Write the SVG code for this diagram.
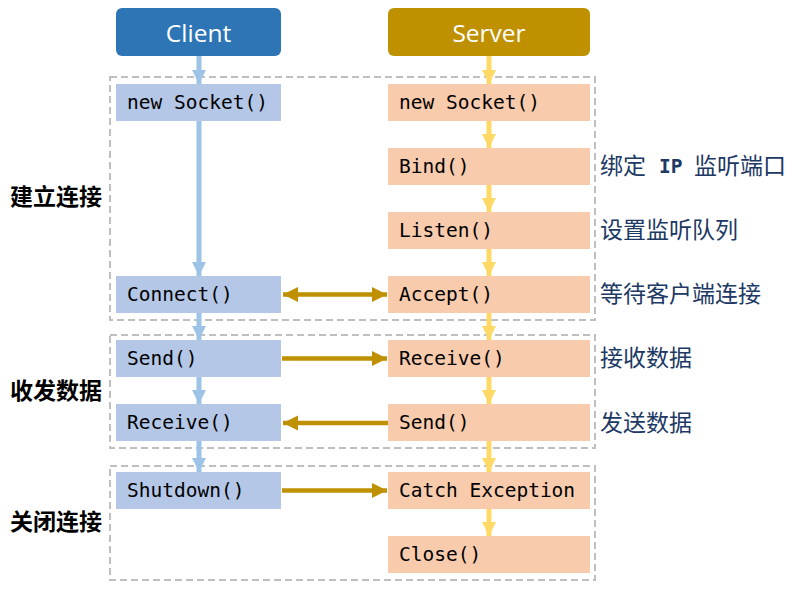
<svg xmlns="http://www.w3.org/2000/svg" width="794" height="592" viewBox="0 0 794 592">
<defs>
<style>
.hdr{font-family:"Open Sans","Noto Sans",sans-serif;font-size:24.5px;fill:#fff;text-anchor:middle}
.code{font-family:"DejaVu Sans Mono","Liberation Mono",monospace;font-size:19.5px;fill:#000}
.cn{fill:#B4C7E7}
.sn{fill:#F8CBAD}
.grp{fill:none;stroke:#BFBFBF;stroke-width:2;stroke-dasharray:7 4}
.lbl{font-family:"Noto Sans CJK SC",sans-serif;font-size:23px;font-weight:bold;fill:#000}
.ann{font-family:"Noto Sans CJK SC",sans-serif;font-size:23px;fill:#203864}
.ip{font-family:"DejaVu Sans Mono","Liberation Mono",monospace;font-size:19.5px;font-weight:bold;fill:#203864}
.ca{stroke:#9DC3E6;stroke-width:5;fill:none}
.sa{stroke:#FFD966;stroke-width:5;fill:none}
.ha{stroke:#BF9000;stroke-width:4.5;fill:none}
</style>
<marker id="mc" viewBox="0 0 10 10" refX="10" refY="5" markerWidth="3" markerHeight="2.8" orient="auto" markerUnits="strokeWidth"><path d="M0,0L10,5L0,10z" fill="#9DC3E6"/></marker>
<marker id="ms" viewBox="0 0 10 10" refX="10" refY="5" markerWidth="3" markerHeight="2.8" orient="auto" markerUnits="strokeWidth"><path d="M0,0L10,5L0,10z" fill="#FFD966"/></marker>
<marker id="mh" viewBox="0 0 10 10" refX="10" refY="5" markerWidth="3.4" markerHeight="3.4" orient="auto-start-reverse" markerUnits="strokeWidth"><path d="M0,0L10,5L0,10z" fill="#BF9000"/></marker>
</defs>
<rect width="794" height="592" fill="#fff"/>
<g id="groups">
<rect class="grp" x="110" y="77" width="485" height="243"/>
<rect class="grp" x="110" y="335" width="485" height="113"/>
<rect class="grp" x="110" y="466" width="485" height="114"/>
</g>
<g id="labels">
<text class="lbl" x="10" y="205">建立连接</text>
<text class="lbl" x="10" y="399">收发数据</text>
<text class="lbl" x="10" y="530">关闭连接</text>
<text class="ann" x="600" y="174">绑定</text>
<text class="ip" x="659" y="173">IP</text>
<text class="ann" x="694" y="174">监听端口</text>
<text class="ann" x="600" y="238">设置监听队列</text>
<text class="ann" x="600" y="302">等待客户端连接</text>
<text class="ann" x="600" y="366">接收数据</text>
<text class="ann" x="600" y="431">发送数据</text>
</g>
<g id="connectors">
<line class="ca" x1="199" y1="56" x2="199" y2="84" marker-end="url(#mc)"/>
<line class="ca" x1="199" y1="121" x2="199" y2="276" marker-end="url(#mc)"/>
<line class="ca" x1="199" y1="313" x2="199" y2="340" marker-end="url(#mc)"/>
<line class="ca" x1="199" y1="377" x2="199" y2="404" marker-end="url(#mc)"/>
<line class="ca" x1="199" y1="441" x2="199" y2="472" marker-end="url(#mc)"/>
<line class="sa" x1="489" y1="56" x2="489" y2="84" marker-end="url(#ms)"/>
<line class="sa" x1="489" y1="121" x2="489" y2="148" marker-end="url(#ms)"/>
<line class="sa" x1="489" y1="185" x2="489" y2="212" marker-end="url(#ms)"/>
<line class="sa" x1="489" y1="249" x2="489" y2="276" marker-end="url(#ms)"/>
<line class="sa" x1="489" y1="313" x2="489" y2="340" marker-end="url(#ms)"/>
<line class="sa" x1="489" y1="377" x2="489" y2="404" marker-end="url(#ms)"/>
<line class="sa" x1="489" y1="441" x2="489" y2="472" marker-end="url(#ms)"/>
<line class="sa" x1="489" y1="509" x2="489" y2="536" marker-end="url(#ms)"/>
<line class="ha" x1="283" y1="294.5" x2="387" y2="294.5" marker-start="url(#mh)" marker-end="url(#mh)"/>
<line class="ha" x1="282" y1="358.5" x2="387" y2="358.5" marker-end="url(#mh)"/>
<line class="ha" x1="388" y1="423" x2="283" y2="423" marker-end="url(#mh)"/>
<line class="ha" x1="282" y1="490.5" x2="387" y2="490.5" marker-end="url(#mh)"/>
</g>
<g id="client-header"><rect x="116" y="8" width="165" height="48" rx="6" fill="#2E75B6"/><text class="hdr" x="198.5" y="42">Client</text></g>
<g id="server-header"><rect x="388" y="8" width="202" height="48" rx="6" fill="#BF9000"/><text class="hdr" x="489" y="42">Server</text></g>
<g id="c-socket"><rect class="cn" x="116" y="84" width="165" height="37"/><text class="code" x="127" y="109">new Socket()</text></g>
<g id="c-connect"><rect class="cn" x="116" y="276" width="165" height="37"/><text class="code" x="127" y="301">Connect()</text></g>
<g id="c-send"><rect class="cn" x="116" y="340" width="165" height="37"/><text class="code" x="127" y="365">Send()</text></g>
<g id="c-receive"><rect class="cn" x="116" y="404" width="165" height="37"/><text class="code" x="127" y="429">Receive()</text></g>
<g id="c-shutdown"><rect class="cn" x="116" y="472" width="165" height="37"/><text class="code" x="127" y="497">Shutdown()</text></g>
<g id="s-socket"><rect class="sn" x="388" y="84" width="202" height="37"/><text class="code" x="399" y="109">new Socket()</text></g>
<g id="s-bind"><rect class="sn" x="388" y="148" width="202" height="37"/><text class="code" x="399" y="173">Bind()</text></g>
<g id="s-listen"><rect class="sn" x="388" y="212" width="202" height="37"/><text class="code" x="399" y="237">Listen()</text></g>
<g id="s-accept"><rect class="sn" x="388" y="276" width="202" height="37"/><text class="code" x="399" y="301">Accept()</text></g>
<g id="s-receive"><rect class="sn" x="388" y="340" width="202" height="37"/><text class="code" x="399" y="365">Receive()</text></g>
<g id="s-send"><rect class="sn" x="388" y="404" width="202" height="37"/><text class="code" x="399" y="429">Send()</text></g>
<g id="s-catch"><rect class="sn" x="388" y="472" width="202" height="37"/><text class="code" x="399" y="497">Catch Exception</text></g>
<g id="s-close"><rect class="sn" x="388" y="536" width="202" height="37"/><text class="code" x="399" y="561">Close()</text></g>
</svg>
